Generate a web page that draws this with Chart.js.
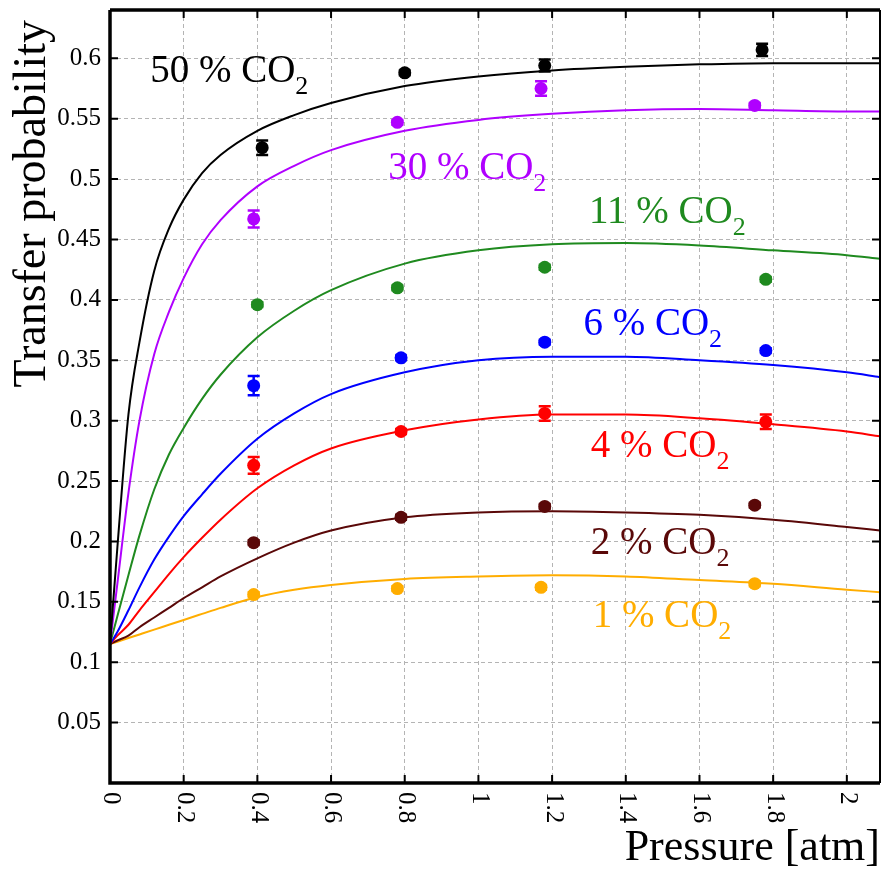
<!DOCTYPE html>
<html>
<head>
<meta charset="utf-8">
<script src="https://cdn.jsdelivr.net/npm/chart.js@4.4.1/dist/chart.umd.min.js"></script>
<style>
  html, body { margin: 0; padding: 0; background: #fff; overflow: hidden; }
  canvas { display: block; }
</style>
</head>
<body>
<canvas id="chart" width="883" height="875"></canvas>
<script>
// tick values
const xTicks = [0, 0.2, 0.4, 0.6, 0.8, 1, 1.2, 1.4, 1.6, 1.8, 2];
const yTicks = [0, 0.05, 0.1, 0.15, 0.2, 0.25, 0.3, 0.35, 0.4, 0.45, 0.5, 0.55, 0.6];

// series names (CO2 fraction, %)
const co2 = ['50', '30', '11', '6', '4', '2', '1'];

// measured points: pressure [atm], transfer probability, error (half width)
const px50 = [0.413, 0.80, 1.18, 1.77];
const py50 = [0.526, 0.588, 0.594, 0.607];
const pe50 = [0.006, 0.002, 0.005, 0.005];
const px30 = [0.39, 0.78, 1.17, 1.75];
const py30 = [0.467, 0.547, 0.575, 0.561];
const pe30 = [0.007, 0.002, 0.006, 0.002];
const px11 = [0.40, 0.78, 1.18, 1.78];
const py11 = [0.396, 0.410, 0.427, 0.417];
const pe11 = [0.002, 0.002, 0.002, 0.002];
const px6 = [0.39, 0.79, 1.18, 1.78];
const py6 = [0.329, 0.352, 0.365, 0.358];
const pe6 = [0.008, 0.002, 0.002, 0.002];
const px4 = [0.39, 0.79, 1.18, 1.78];
const py4 = [0.263, 0.291, 0.306, 0.299];
const pe4 = [0.007, 0.002, 0.006, 0.006];
const px2 = [0.39, 0.79, 1.18, 1.75];
const py2 = [0.199, 0.220, 0.229, 0.230];
const pe2 = [0.002, 0.002, 0.002, 0.002];
const px1 = [0.39, 0.78, 1.17, 1.75];
const py1 = [0.156, 0.161, 0.162, 0.165];
const pe1 = [0.002, 0.002, 0.002, 0.002];

const fitX = [0, 0.02, 0.05, 0.08, 0.12, 0.16, 0.2, 0.25, 0.3, 0.4, 0.5, 0.6, 0.8, 1.0, 1.2, 1.4, 1.6, 1.8, 2.0, 2.09];
const fit50 = [0.115, 0.195, 0.305, 0.365, 0.424, 0.459, 0.483, 0.505, 0.520, 0.540, 0.553, 0.563, 0.577, 0.585, 0.590, 0.593, 0.595, 0.596, 0.596, 0.596];
const fit30 = [0.115, 0.165, 0.24, 0.30, 0.355, 0.39, 0.418, 0.446, 0.466, 0.494, 0.511, 0.524, 0.540, 0.549, 0.554, 0.557, 0.558, 0.557, 0.556, 0.556];
const fit11 = [0.115, 0.138, 0.172, 0.205, 0.243, 0.272, 0.294, 0.318, 0.338, 0.369, 0.391, 0.408, 0.430, 0.441, 0.446, 0.447, 0.445, 0.441, 0.437, 0.434];
const fit6 = [0.115, 0.125, 0.143, 0.162, 0.185, 0.204, 0.221, 0.239, 0.256, 0.285, 0.306, 0.322, 0.340, 0.350, 0.353, 0.353, 0.350, 0.346, 0.340, 0.336];
const fit4 = [0.115, 0.122, 0.131, 0.143, 0.158, 0.173, 0.187, 0.203, 0.218, 0.244, 0.263, 0.277, 0.292, 0.301, 0.305, 0.305, 0.302, 0.297, 0.291, 0.287];
const fit2 = [0.115, 0.118, 0.122, 0.129, 0.137, 0.145, 0.153, 0.162, 0.171, 0.186, 0.199, 0.209, 0.220, 0.224, 0.225, 0.224, 0.222, 0.218, 0.212, 0.209];
const fit1 = [0.115, 0.117, 0.120, 0.123, 0.127, 0.131, 0.135, 0.140, 0.145, 0.154, 0.160, 0.164, 0.169, 0.171, 0.172, 0.171, 0.168, 0.165, 0.160, 0.158];

const colors = ['#000000', '#b000ff', '#1f8a1f', '#0000ff', '#ff0000', '#5a0808', '#ffad00'];
const pointsX = [px50, px30, px11, px6, px4, px2, px1];
const pointsY = [py50, py30, py11, py6, py4, py2, py1];
const pointsErr = [pe50, pe30, pe11, pe6, pe4, pe2, pe1];
const fits = [fit50, fit30, fit11, fit6, fit4, fit2, fit1];

// where each label sits (data coords, left/baseline)
const labelAt = [[0.109, 0.580], [0.755, 0.500], [1.30, 0.464], [1.285, 0.371], [1.305, 0.270], [1.305, 0.190], [1.31, 0.129]];

const serif = 'Liberation Serif';

const pairs = (xs, ys) => xs.map((x, i) => ({x: x, y: ys[i]}));

const datasets = [];
co2.forEach((c, i) => {
    datasets.push({
        type: 'scatter',
        label: c + ' % points',
        data: pairs(pointsX[i], pointsY[i]),
        err: pointsErr[i],
        backgroundColor: colors[i],
        borderWidth: 0,
        pointRadius: 6.5,
        pointHoverRadius: 6.5,
    });
});
co2.forEach((c, i) => {
    datasets.push({
        type: 'line',
        label: c + ' % fit',
        data: pairs(fitX, fits[i]),
        borderColor: colors[i],
        borderWidth: 2,
        pointRadius: 0,
        fill: false,
        cubicInterpolationMode: 'monotone',
    });
});

// error bars, frame, inner ticks, rotated x labels, curve labels
const decor = {
    id: 'decor',
    beforeDatasetsDraw(chart) {
        const ctx = chart.ctx, x = chart.scales.x, y = chart.scales.y;
        ctx.save();
        chart.data.datasets.forEach(ds => {
            if (!ds.err) return;
            ctx.strokeStyle = ds.backgroundColor;
            ctx.lineWidth = 2.5;
            ds.data.forEach((p, j) => {
                const cx = x.getPixelForValue(p.x);
                const top = y.getPixelForValue(p.y + ds.err[j]);
                const bot = y.getPixelForValue(p.y - ds.err[j]);
                ctx.beginPath();
                ctx.moveTo(cx, top); ctx.lineTo(cx, bot);
                ctx.moveTo(cx - 6, top); ctx.lineTo(cx + 6, top);
                ctx.moveTo(cx - 6, bot); ctx.lineTo(cx + 6, bot);
                ctx.stroke();
            });
        });
        ctx.restore();
    },
    afterDraw(chart) {
        const ctx = chart.ctx, a = chart.chartArea, x = chart.scales.x, y = chart.scales.y;
        ctx.save();
        // frame
        ctx.strokeStyle = '#000';
        ctx.lineWidth = 3.5;
        ctx.beginPath();
        ctx.moveTo(a.left, a.top); ctx.lineTo(a.left, a.bottom); ctx.lineTo(a.right, a.bottom);
        ctx.moveTo(a.left, a.top); ctx.lineTo(a.right, a.top);
        ctx.stroke();
        ctx.lineWidth = 2;
        ctx.beginPath();
        ctx.moveTo(a.right, a.top); ctx.lineTo(a.right, a.bottom);
        ctx.stroke();
        // inner ticks
        ctx.lineWidth = 2;
        ctx.beginPath();
        xTicks.forEach(v => {
            const px = x.getPixelForValue(v);
            if (v === 0) return;
            ctx.moveTo(px, a.bottom); ctx.lineTo(px, a.bottom - 8);
            ctx.moveTo(px, a.top); ctx.lineTo(px, a.top + 8);
        });
        yTicks.forEach(v => {
            if (v === 0) return;
            const py = y.getPixelForValue(v);
            ctx.moveTo(a.left, py); ctx.lineTo(a.left + 8, py);
            ctx.moveTo(a.right, py); ctx.lineTo(a.right - 8, py);
        });
        ctx.stroke();
        // x tick labels, rotated to read downwards
        ctx.fillStyle = '#000';
        ctx.font = '25px "' + serif + '"';
        ctx.textAlign = 'left';
        ctx.textBaseline = 'middle';
        xTicks.forEach(v => {
            ctx.save();
            ctx.translate(x.getPixelForValue(v) + 1, a.bottom + 9);
            ctx.rotate(Math.PI / 2);
            ctx.fillText(String(v), 0, 0);
            ctx.restore();
        });
        // curve labels "N % CO2"
        ctx.textBaseline = 'alphabetic';
        co2.forEach((c, i) => {
            const lx = x.getPixelForValue(labelAt[i][0]);
            const ly = y.getPixelForValue(labelAt[i][1]);
            const main = c + ' % CO';
            ctx.fillStyle = colors[i];
            ctx.font = '39px "' + serif + '"';
            ctx.fillText(main, lx, ly);
            const w = ctx.measureText(main).width;
            ctx.font = '26px "' + serif + '"';
            ctx.fillText('2', lx + w, ly + 12);
        });
        // y axis title, rotated, top end near the frame top
        ctx.fillStyle = '#000';
        ctx.font = '46px "' + serif + '"';
        ctx.textAlign = 'right';
        ctx.textBaseline = 'middle';
        ctx.translate(33, a.top + 10);
        ctx.rotate(-Math.PI / 2);
        ctx.fillText('Transfer probability', 0, 0);
        ctx.restore();
    }
};

new Chart(document.getElementById('chart'), {
    data: {datasets: datasets},
    plugins: [decor],
    options: {
        responsive: false,
        animation: false,
        layout: {autoPadding: false, padding: {left: 0, right: 3, top: 10, bottom: 0}},
        plugins: {
            legend: {display: false},
            tooltip: {enabled: false},
        },
        scales: {
            x: {
                type: 'linear',
                min: 0,
                max: 2.09,
                afterBuildTicks: s => { s.ticks = xTicks.map(v => ({value: v})); },
                afterFit: s => { s.height = 92; s.paddingLeft = 0; s.paddingRight = 0; },
                ticks: {display: false},
                grid: {color: '#b4b4b4', lineWidth: 1, drawTicks: false},
                border: {display: false, dash: [4, 3]},
                title: {
                    display: true,
                    text: 'Pressure [atm]',
                    align: 'end',
                    color: '#000',
                    font: {family: serif, size: 44},
                    padding: {top: 0, bottom: 0},
                },
            },
            y: {
                type: 'linear',
                min: 0,
                max: 0.64,
                afterBuildTicks: s => { s.ticks = yTicks.map(v => ({value: v})); },
                afterFit: s => { s.width = 110; s.paddingTop = 0; s.paddingBottom = 0; },
                ticks: {
                    color: '#000',
                    padding: 9,
                    font: {family: serif, size: 25},
                    callback: v => (v === 0 ? '' : String(v)),
                },
                grid: {color: '#b4b4b4', lineWidth: 1, drawTicks: false},
                border: {display: false, dash: [4, 3]},
            },
        },
    },
});
</script>
</body>
</html>
